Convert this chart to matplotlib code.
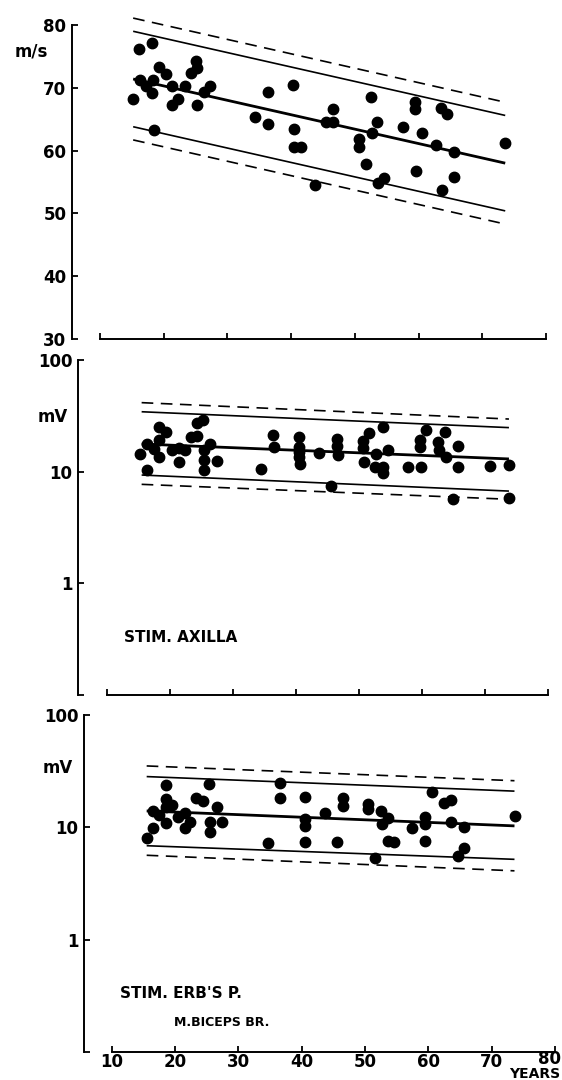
import numpy as np
import matplotlib
matplotlib.use("Agg")
import matplotlib.pyplot as plt

plt.rcParams['font.family'] = 'DejaVu Sans'
plt.rcParams['font.weight'] = 'bold'

W, H = 562, 1080

# ---- panel 1: conduction velocity (m/s)
age_v = [15.2, 16.1, 16.2, 17.2, 18.2, 18.3, 18.2, 18.5, 19.2, 20.3, 21.3, 21.3,
         22.3, 23.3, 24.2, 25.1, 25.2, 25.2, 26.3, 27.3, 34.4, 36.4, 36.4, 40.3,
         40.4, 40.5, 41.6, 43.7, 45.5, 46.5, 46.6, 50.6, 50.6, 51.7, 52.5, 52.7,
         53.4, 53.7, 54.6, 57.5, 59.5, 59.5, 59.6, 60.5, 62.7, 63.5, 63.7, 64.5,
         65.5, 65.6, 73.6]
vel = [68.2, 76.1, 71.2, 70.3, 77.2, 71.2, 69.2, 63.3, 73.3, 72.2, 70.3, 67.3,
       68.2, 70.3, 72.3, 74.3, 73.2, 67.3, 69.4, 70.3, 65.3, 69.4, 64.3, 70.4,
       63.4, 60.5, 60.5, 54.5, 64.6, 66.6, 64.6, 61.8, 60.6, 57.8, 68.6, 62.8,
       64.6, 54.8, 55.7, 63.7, 67.8, 66.7, 56.8, 62.8, 60.9, 66.8, 53.8, 65.9,
       59.8, 55.8, 61.2]
# regression line ends (x0, x1), centre and limits
line_x1 = [15.2, 73.6]
vel_mean = [71.4, 58.0]
vel_in = [7.6, 7.6]     # solid limit offset
vel_out = [9.7, 9.7]    # dashed limit offset

# ---- panel 2: amplitude, stim. axilla (mV)
age_ax = [15.3, 16.3, 16.3, 17.4, 18.2, 18.3, 18.3, 19.3, 20.3, 21.5, 21.5, 22.4,
          23.3, 24.3, 24.3, 25.3, 25.4, 25.4, 25.4, 26.4, 27.4, 34.5, 36.4, 36.5,
          40.5, 40.5, 40.5, 40.5, 40.6, 43.6, 45.6, 46.5, 46.5, 46.7, 50.6, 50.6,
          50.8, 51.6, 52.7, 52.6, 53.8, 53.8, 53.8, 54.6, 57.8, 59.9, 59.7, 59.7,
          60.7, 62.6, 62.7, 63.7, 63.8, 64.9, 65.7, 65.7, 70.8, 73.8, 73.8]
amp_ax = [14.3, 17.7, 10.4, 15.9, 25.3, 19.2, 13.6, 22.8, 15.6, 16.2, 12.3, 15.6,
          20.6, 20.9, 27.1, 29.0, 15.6, 12.7, 10.4, 17.7, 12.5, 10.5, 21.3, 16.8,
          20.3, 16.8, 15.1, 13.6, 11.7, 14.8, 7.5, 19.6, 17.0, 14.1, 19.0, 16.2,
          12.1, 22.1, 14.3, 11.1, 25.3, 11.1, 9.8, 15.6, 10.9, 10.9, 19.2, 16.5,
          23.6, 18.6, 15.6, 22.5, 13.4, 5.66, 17.1, 11.1, 11.3, 11.5, 5.78]
line_x2 = [15.5, 73.8]
ax_mean = [17.7, 13.0]
ax_hi = [34.4, 24.8]
ax_lo = [9.33, 6.7]
ax_hi2 = [41.5, 29.6]
ax_lo2 = [7.7, 5.66]

# ---- panel 3: amplitude, stim. Erb's point (mV)
age_erb = [15.5, 16.5, 16.5, 17.5, 18.5, 18.5, 18.5, 18.5, 19.5, 20.4, 21.5, 21.5,
           22.4, 23.3, 24.4, 25.4, 25.5, 25.5, 26.6, 27.4, 34.7, 36.5, 36.5, 40.5,
           40.5, 40.5, 40.5, 43.7, 45.5, 46.5, 46.5, 50.5, 50.5, 51.6, 52.5, 52.6,
           53.6, 53.6, 54.6, 57.4, 59.5, 59.5, 59.5, 60.5, 62.5, 63.5, 63.6, 64.6,
           65.6, 65.6, 73.7]
amp_erb = [7.98, 9.9, 14.0, 12.9, 23.8, 17.7, 15.3, 10.9, 15.8, 12.3, 13.3, 9.9,
           11.2, 18.4, 17.3, 24.2, 11.2, 9.1, 15.1, 11.2, 7.2, 24.7, 18.1, 18.5,
           11.8, 10.3, 7.35, 13.5, 7.35, 18.1, 15.5, 16.1, 14.6, 5.3, 14.1, 10.6,
           12.0, 7.55, 7.45, 9.8, 12.3, 10.7, 7.55, 20.5, 16.4, 17.5, 11.1, 5.5,
           10.1, 6.6, 12.6]
line_x3 = [15.5, 73.6]
erb_mean = [14.0, 10.3]
erb_hi = [28.3, 21.0]
erb_lo = [6.86, 5.19]
erb_hi2 = [35.2, 26.0]
erb_lo2 = [5.64, 4.10]

year_labels = ['10', '20', '30', '40', '50', '60', '70', '80']

fig = plt.figure(figsize=(W/100, H/100), dpi=100)


def box(l, t, r, b):
    return [l/W, 1 - b/H, (r - l)/W, (b - t)/H]


def style(ax, xmin):
    ax.set_xlim(xmin, 80)
    for s in ['top', 'right']:
        ax.spines[s].set_visible(False)
    ax.spines['bottom'].set_bounds(10, 80)
    ax.spines['left'].set_linewidth(1.4)
    ax.spines['bottom'].set_linewidth(1.4)
    ax.set_xticks(range(10, 81, 10))
    ax.tick_params(direction='in', length=4, width=1.3, labelsize=12, pad=4)
    ax.tick_params(axis='x', pad=1)
    ax.minorticks_off()


def bands(ax, x, mean, lo, hi, lo2, hi2):
    kw = dict(color='k', clip_on=False, solid_capstyle='butt')
    ax.plot(x, mean, lw=2.0, **kw)
    ax.plot(x, lo, lw=1.2, **kw)
    ax.plot(x, hi, lw=1.2, **kw)
    ax.plot(x, lo2, lw=1.2, dashes=(7, 4.5), **kw)
    ax.plot(x, hi2, lw=1.2, dashes=(7, 4.5), **kw)


# top panel
ax1 = fig.add_axes(box(72, 25, 546, 339))
style(ax1, 5.6)
ax1.set_ylim(30, 80)
ax1.set_yticks(range(30, 81, 10))
ax1.set_xticklabels([])
m = np.array(vel_mean)
bands(ax1, line_x1, m, m - np.array(vel_in), m + np.array(vel_in),
      m - np.array(vel_out), m + np.array(vel_out))
ax1.plot(age_v, vel, 'o', color='k', ms=7.5, clip_on=False)
fig.text(15/W, 1 - 52/H, 'm/s', fontsize=12, va='center', ha='left')

# middle panel
ax2 = fig.add_axes(box(78, 360, 548, 695))
ax2.set_yscale('log')
style(ax2, 5.4)
ax2.set_ylim(0.1, 100)
ax2.set_yticks([0.1, 1, 10, 100])
ax2.set_yticklabels(['', '1', '10', '100'])
ax2.set_xticklabels([])
bands(ax2, line_x2, ax_mean, ax_lo, ax_hi, ax_lo2, ax_hi2)
ax2.plot(age_ax, amp_ax, 'o', color='k', ms=7.5, clip_on=False)
fig.text(38/W, 1 - 417/H, 'mV', fontsize=12, va='center', ha='left')
fig.text(124/W, 1 - 637/H, 'STIM. AXILLA', fontsize=11, va='center', ha='left')

# bottom panel
ax3 = fig.add_axes(box(84, 715, 555, 1052))
ax3.set_yscale('log')
style(ax3, 5.6)
ax3.set_ylim(0.1, 100)
ax3.set_yticks([0.1, 1, 10, 100])
ax3.set_yticklabels(['', '1', '10', '100'])
ax3.set_xticklabels(year_labels[:-1] + [''])
bands(ax3, line_x3, erb_mean, erb_lo, erb_hi, erb_lo2, erb_hi2)
ax3.plot(age_erb, amp_erb, 'o', color='k', ms=7.5, clip_on=False)
fig.text(43/W, 1 - 768/H, 'mV', fontsize=12, va='center', ha='left')
fig.text(120/W, 1 - 993/H, "STIM. ERB'S P.", fontsize=11, va='center', ha='left')
fig.text(174/W, 1 - 1022/H, 'M.BICEPS BR.', fontsize=9, va='center', ha='left')
# last year label pulled inside the figure edge, "YEARS" under it
fig.text(561/W, 1 - 1059/H, year_labels[-1], fontsize=12, va='center', ha='right')
fig.text(560/W, 1 - 1074/H, 'YEARS', fontsize=10, va='center', ha='right')

fig.savefig('out.png', dpi=100, facecolor='white')
